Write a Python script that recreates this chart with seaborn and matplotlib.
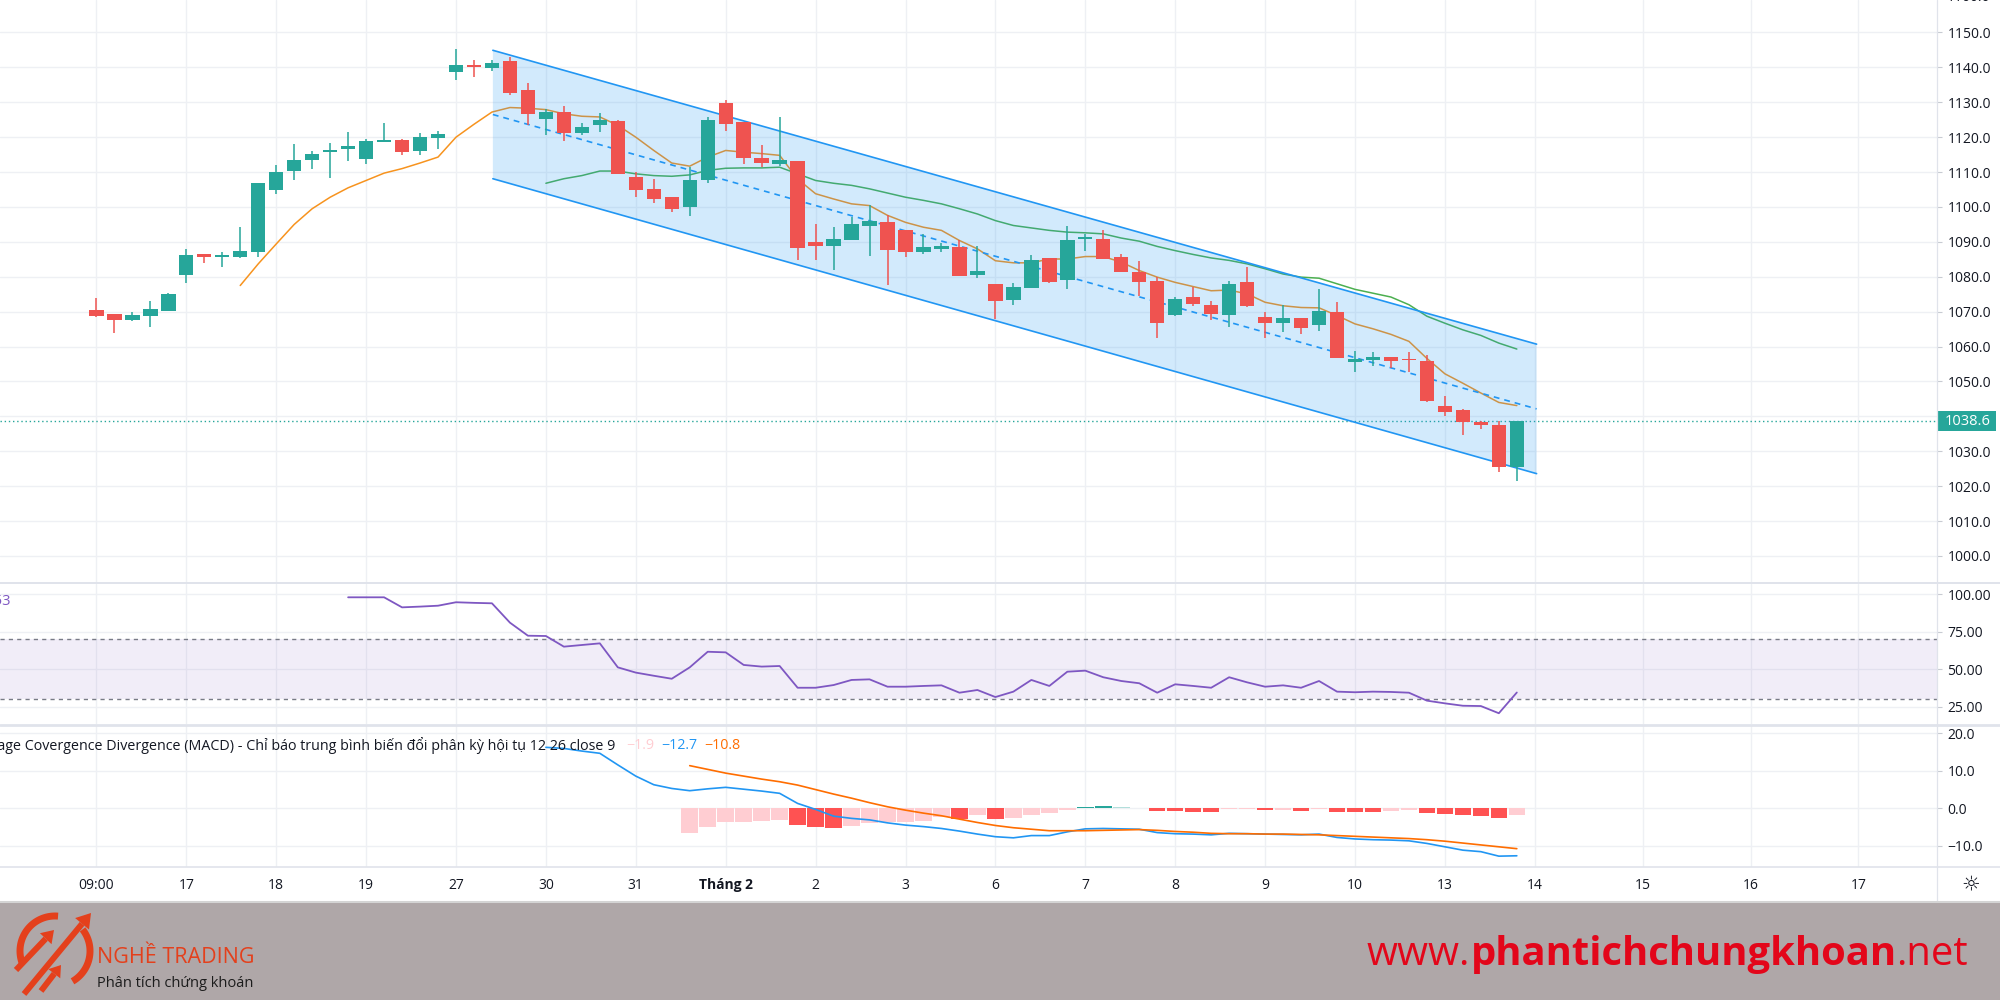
import numpy as np
import matplotlib
matplotlib.use("Agg")
import matplotlib.pyplot as plt
import matplotlib.transforms as mtransforms
from matplotlib.patches import Rectangle, Polygon
from matplotlib.lines import Line2D
import seaborn as sns

# ---------------- price bars (5 slots per trading day) ----------------
open_ = [1070.5, 1069.2, 1067.7, 1068.7, 1070.3, 1080.6, 1086.6, 1085.8, 1085.8, 1087.0,
         1104.9, 1110.3, 1113.5, 1115.7, 1116.7, 1113.8, 1118.6, 1119.1, 1116.0, 1119.9,
         1138.7, 1140.7, 1139.9, 1141.8, 1133.4, 1125.3, 1127.2, 1121.2, 1123.4, 1124.6,
         1108.6, 1105.2, 1103.0, 1100.0, 1107.6, 1129.8, 1124.4, 1114.0, 1112.2, 1113.3,
         1089.9, 1088.9, 1090.6, 1094.5, 1095.6, 1093.4, 1087.0, 1088.0, 1088.5, 1080.6,
         1077.9, 1073.4, 1076.8, 1085.3, 1079.1, 1090.9, 1090.9, 1085.6, 1081.5, 1078.9,
         1069.1, 1074.1, 1072.0, 1069.1, 1078.6, 1068.6, 1066.7, 1068.2, 1066.3, 1069.8,
         1055.5, 1056.3, 1057.1, 1056.3, 1056.0, 1042.9, 1041.8, 1038.5, 1037.4, 1025.5]
high = [1073.8, 1069.2, 1069.8, 1073.2, 1075.3, 1088.0, 1086.6, 1087.0, 1094.4, 1106.8,
        1112.1, 1118.1, 1116.0, 1118.3, 1121.4, 1119.5, 1124.1, 1119.5, 1121.2, 1121.7,
        1145.2, 1142.2, 1142.0, 1143.0, 1135.4, 1128.2, 1128.9, 1124.1, 1126.9, 1124.8,
        1110.0, 1107.9, 1103.0, 1111.4, 1125.8, 1130.6, 1124.4, 1117.8, 1125.8, 1113.3,
        1095.0, 1094.2, 1097.1, 1100.7, 1097.6, 1093.4, 1092.3, 1089.6, 1090.6, 1088.7,
        1077.9, 1078.1, 1086.3, 1085.3, 1094.5, 1092.3, 1093.3, 1086.4, 1084.6, 1080.0,
        1074.1, 1077.2, 1073.2, 1078.9, 1082.9, 1069.8, 1072.0, 1068.2, 1076.5, 1072.7,
        1058.8, 1058.5, 1057.1, 1058.5, 1057.7, 1045.9, 1042.0, 1038.7, 1038.7, 1038.6]
low = [1068.4, 1063.9, 1067.4, 1065.7, 1070.3, 1078.2, 1083.9, 1082.7, 1085.4, 1085.6,
       1103.6, 1107.6, 1111.0, 1108.4, 1113.2, 1112.4, 1118.6, 1115.0, 1115.0, 1116.7,
       1136.3, 1137.3, 1138.9, 1132.0, 1123.4, 1120.5, 1118.8, 1120.5, 1121.5, 1109.5,
       1102.8, 1101.2, 1098.5, 1097.3, 1106.8, 1121.8, 1112.2, 1111.4, 1111.7, 1084.8,
       1084.9, 1082.0, 1090.4, 1086.0, 1077.7, 1085.8, 1086.4, 1087.2, 1080.3, 1079.7,
       1067.9, 1072.0, 1076.8, 1078.1, 1076.5, 1087.3, 1085.1, 1081.3, 1074.6, 1062.6,
       1068.9, 1071.7, 1067.6, 1065.7, 1071.4, 1062.6, 1064.1, 1063.6, 1064.4, 1056.7,
       1052.7, 1054.4, 1053.8, 1052.7, 1044.0, 1040.1, 1034.6, 1036.5, 1024.0, 1021.4]
close = [1068.7, 1067.7, 1069.0, 1070.8, 1075.1, 1086.3, 1085.8, 1086.1, 1087.3, 1106.8,
         1110.0, 1113.6, 1115.3, 1116.4, 1117.4, 1118.8, 1119.3, 1115.7, 1120.0, 1121.0,
         1140.6, 1140.2, 1141.4, 1132.8, 1126.6, 1127.2, 1121.2, 1122.9, 1125.0, 1109.5,
         1105.0, 1102.3, 1099.5, 1107.8, 1125.0, 1123.7, 1114.1, 1112.6, 1113.6, 1088.3,
         1088.8, 1090.7, 1095.0, 1095.9, 1087.7, 1087.0, 1088.5, 1088.7, 1080.3, 1081.8,
         1073.2, 1077.2, 1084.8, 1078.6, 1090.4, 1091.3, 1085.1, 1081.3, 1078.6, 1066.9,
         1073.6, 1072.2, 1069.3, 1077.9, 1071.7, 1066.7, 1068.2, 1065.2, 1070.3, 1056.7,
         1056.4, 1057.1, 1055.8, 1056.1, 1044.5, 1041.4, 1038.5, 1037.6, 1025.5, 1038.6]

# ---------------- moving averages ----------------
ma_fast_start = 8
ma_fast = [1077.5, 1083.7, 1089.4, 1095.0, 1099.5, 1102.8, 1105.5, 1107.6, 1109.7, 1111.0,
           1112.6, 1114.3, 1120.0, 1123.7, 1127.2, 1128.5, 1128.3, 1127.9, 1126.7, 1126.0,
           1125.8, 1123.4, 1120.0, 1116.2, 1112.6, 1111.7, 1114.3, 1116.2, 1115.7, 1115.3,
           1114.8, 1108.0, 1103.8, 1102.3, 1100.9, 1100.4, 1097.6, 1095.6, 1094.2, 1093.3,
           1090.4, 1088.0, 1084.6, 1084.0, 1084.0, 1085.1, 1085.1, 1085.8, 1085.8, 1084.2,
           1081.8, 1079.9, 1078.4, 1077.2, 1076.0, 1076.2, 1075.1, 1072.7, 1071.7, 1071.2,
           1071.1, 1068.9, 1066.5, 1065.1, 1063.5, 1061.5, 1056.6, 1052.2, 1049.5, 1046.7,
           1044.0, 1043.1]
ma_slow_start = 25
ma_slow = [1106.8, 1108.1, 1109.0, 1110.3, 1110.3, 1109.5, 1109.0, 1108.8, 1109.2, 1110.5,
           1111.1, 1111.2, 1111.2, 1111.4, 1109.5, 1107.6, 1106.8, 1106.2, 1105.2, 1104.0,
           1102.8, 1101.9, 1100.9, 1099.5, 1098.0, 1096.1, 1094.7, 1094.0, 1093.3, 1092.8,
           1092.6, 1092.3, 1091.1, 1090.2, 1088.7, 1087.5, 1086.4, 1085.4, 1084.7, 1083.7,
           1082.3, 1080.8, 1079.9, 1079.6, 1078.0, 1076.4, 1075.3, 1074.2, 1072.0, 1068.7,
           1066.7, 1064.8, 1063.2, 1061.0, 1059.3]

# ---------------- parallel channel anchors ----------------
channel_x = [22.05, 80.1]
channel_upper = [1144.9, 1060.7]
channel_lower = [1108.1, 1023.6]

# ---------------- RSI 14 ----------------
rsi_start = 14
rsi = [98.0, 98.0, 98.0, 91.3, 91.8, 92.4, 94.7, 94.3, 94.0,
       81.1, 72.4, 72.2, 65.1, 66.2, 67.3, 51.3, 47.8, 45.7, 43.7,
       51.3, 61.7, 61.3, 52.9, 51.8, 52.2, 37.7, 37.7, 39.5, 42.9,
       43.3, 38.4, 38.4, 38.9, 39.3, 34.4, 36.2, 31.5, 35.1, 42.9,
       38.9, 48.4, 49.1, 44.7, 42.2, 40.7, 34.4, 40.0, 38.9, 37.7,
       44.7, 41.3, 38.4, 39.3, 37.7, 42.2, 35.1, 34.7, 35.1, 34.9,
       34.4, 29.1, 27.3, 25.7, 25.5, 20.7, 34.53]

# ---------------- MACD 12 26 9 ----------------
macd_start = 25
macd = [16.3, 16.0, 15.3, 14.7, 11.6, 8.6, 6.3, 5.3, 4.7, 5.2,
        5.6, 5.1, 4.6, 4.0, 1.3, -0.3, -2.1, -2.7, -3.1, -3.9,
        -4.5, -4.9, -5.4, -6.1, -6.9, -7.6, -7.9, -7.3, -7.3, -6.3,
        -5.5, -5.4, -5.5, -5.6, -6.5, -6.8, -6.9, -7.1, -6.7, -6.8,
        -6.9, -7.0, -7.1, -6.9, -7.8, -8.2, -8.4, -8.5, -8.7, -9.4,
        -10.3, -11.2, -11.6, -12.8, -12.7]
signal_start = 33
signal = [11.4, 10.4, 9.4, 8.6, 7.8, 7.1, 6.2, 5.0, 3.8, 2.7,
          1.5, 0.4, -0.5, -1.3, -2.0, -2.9, -3.8, -4.6, -5.2, -5.6,
          -6.0, -6.0, -6.0, -5.9, -5.8, -5.7, -5.9, -6.2, -6.4, -6.7,
          -6.8, -6.8, -6.9, -6.9, -7.0, -7.1, -7.3, -7.5, -7.7, -7.9,
          -8.1, -8.4, -8.8, -9.3, -9.8, -10.3, -10.8]
hist = [-6.7, -5.1, -3.8, -3.6, -3.3, -3.1, -4.5, -5.0, -5.2, -4.7,
        -4.0, -3.8, -3.6, -3.3, -2.4, -2.9, -1.8, -2.9, -2.7, -1.8,
        -1.3, -0.4, 0.4, 0.5, 0.4, 0.2, -0.7, -0.8, -0.9, -1.0,
        -0.3, -0.2, -0.5, -0.4, -0.6, -0.1, -0.9, -1.0, -1.1, -0.6,
        -0.5, -1.3, -1.6, -1.8, -2.0, -2.6, -1.9]

# ---------------- time scale ----------------
day_ticks = [0, 5, 10, 15, 20, 25, 30, 35, 40, 45, 50, 55, 60, 65, 70, 75, 80, 86, 92, 98]
day_labels = ["09:00", "17", "18", "19", "27", "30", "31", "Tháng 2", "2", "3", "6", "7",
              "8", "9", "10", "13", "14", "15", "16", "17"]
price_ticks = [1000, 1010, 1020, 1030, 1040, 1050, 1060, 1070, 1080, 1090, 1100,
               1110, 1120, 1130, 1140, 1150]
rsi_ticks = [25, 50, 75, 100]
macd_ticks = [-10, 0, 10, 20]

# ---------------- style ----------------
sns.set_theme(style="white")
plt.rcParams["font.family"] = ["Open Sans", "DejaVu Sans"]
plt.rcParams["axes.unicode_minus"] = True

UP, DOWN = "#26a69a", "#ef5350"
GRID = "#eef0f4"
SEP = "#e0e3eb"
TXT = "#131722"
BLUE, ORANGE = "#2196f3", "#ff6d00"
W, H = 2000, 1000
PLOT_R = 1937.0
XLIM = (-96.4 / 17.98, (PLOT_R - 96.4) / 17.98)

fig = plt.figure(figsize=(20, 10), dpi=100)
fig.patch.set_facecolor("white")


def ax_px(x0, y0, x1, y1):
    return fig.add_axes([x0 / W, 1 - y1 / H, (x1 - x0) / W, (y1 - y0) / H])


def style_pane(ax, yticks, fmt, ylim):
    ax.set_xlim(*XLIM)
    ax.set_ylim(*ylim)
    ax.set_facecolor("none")
    for s in ax.spines.values():
        s.set_visible(False)
    ax.set_xticks(day_ticks)
    ax.set_yticks(yticks)
    ax.set_yticklabels([fmt.format(v).replace("-", "\u2212") for v in yticks])
    ax.yaxis.tick_right()
    ax.tick_params(axis="x", length=0, labelbottom=False, bottom=False)
    ax.tick_params(axis="y", left=False, right=True, labelleft=False, labelright=True,
                   length=3.6, width=0.8, color="#c8cbd2", pad=4,
                   labelsize=10, labelcolor=TXT)
    ax.grid(True, color=GRID, linewidth=1)
    ax.set_axisbelow(True)
    ax.set_xlabel("")
    ax.set_ylabel("")


# ================= price pane =================
ax = ax_px(0, 0, PLOT_R, 582)
x = np.arange(len(close))
o, h, l, c = map(np.array, (open_, high, low, close))
bar_colors = np.where(c >= o, UP, DOWN)

sns.lineplot(x=np.arange(ma_fast_start, ma_fast_start + len(ma_fast)), y=ma_fast,
             ax=ax, color="#f7931e", linewidth=1.1, zorder=2)
sns.lineplot(x=np.arange(ma_slow_start, ma_slow_start + len(ma_slow)), y=ma_slow,
             ax=ax, color="#4caf50", linewidth=1.1, zorder=2)

cu, cl = np.array(channel_upper), np.array(channel_lower)
ax.add_patch(Polygon([(channel_x[0], cu[0]), (channel_x[1], cu[1]),
                      (channel_x[1], cl[1]), (channel_x[0], cl[0])],
                     closed=True, facecolor=(33 / 255, 150 / 255, 243 / 255, 0.2),
                     edgecolor="none", zorder=2.5))
ax.plot(channel_x, cu, color=BLUE, linewidth=1.2, zorder=3)
ax.plot(channel_x, cl, color=BLUE, linewidth=1.2, zorder=3)
ax.plot(channel_x, (cu + cl) / 2, color=BLUE, linewidth=1.2,
        linestyle=(0, (3.5, 3)), zorder=3)

ax.axhline(close[-1], color=UP, linewidth=1, linestyle=(0, (1, 2)), zorder=1.5)

ax.vlines(x, l, h, colors=bar_colors, linewidth=1.1, zorder=4)
ax.bar(x, np.maximum(np.abs(c - o), 0.35), bottom=np.minimum(o, c), width=0.8,
       color=bar_colors, linewidth=0, zorder=5)

style_pane(ax, price_ticks, "{:.1f}", (992.55, 1159.31))
blend = mtransforms.blended_transform_factory(ax.transAxes, ax.transData)
ax.text(1 + 10 / PLOT_R, 1160, "1160.0", transform=blend, ha="left", va="center",
        fontsize=10, color=TXT, clip_on=False)
# last price tag
ax.add_patch(Rectangle((1.0005, close[-1] - 2.9), 58 / PLOT_R, 5.8, transform=blend,
                       facecolor=UP, edgecolor="none", clip_on=False, zorder=6))
ax.text(1 + 8 / PLOT_R, close[-1], f"{close[-1]:.1f}", transform=blend, ha="left",
        va="center", fontsize=10.5, color="white", clip_on=False, zorder=7)

# ================= RSI pane =================
axr = ax_px(0, 584, PLOT_R, 724)
axr.axhspan(30, 70, color=(126 / 255, 87 / 255, 194 / 255, 0.1), linewidth=0, zorder=1)
axr.axhline(70, color="#787b86", linewidth=1, linestyle=(0, (3, 3)), zorder=2)
axr.axhline(30, color="#787b86", linewidth=1, linestyle=(0, (3, 3)), zorder=2)
sns.lineplot(x=np.arange(rsi_start, rsi_start + len(rsi)), y=rsi, ax=axr,
             color="#7e57c2", linewidth=1.3, zorder=3)
style_pane(axr, rsi_ticks, "{:.2f}", (13.53, 106.87))
fig.text(10.5 / W, 1 - 601.5 / H, f"RSI 14 close {rsi[-1]:.2f}", ha="right",
         va="center", fontsize=10.5, color="#7e57c2")

# ================= MACD pane =================
axm = ax_px(0, 726, PLOT_R, 867)
hist_colors = []
prev = None
for v in hist:
    rising = prev is None or v > prev
    if v >= 0:
        hist_colors.append("#26a69a" if rising else "#b2dfdb")
    else:
        hist_colors.append("#ffcdd2" if rising else "#ff5252")
    prev = v
axm.bar(np.arange(signal_start, signal_start + len(hist)), hist, width=0.92,
        color=hist_colors, linewidth=0, zorder=2)
sns.lineplot(x=np.arange(macd_start, macd_start + len(macd)), y=macd, ax=axm,
             color=BLUE, linewidth=1.2, zorder=3)
sns.lineplot(x=np.arange(signal_start, signal_start + len(signal)), y=signal, ax=axm,
             color=ORANGE, linewidth=1.2, zorder=3)
style_pane(axm, macd_ticks, "{:.1f}", (-15.7, 22.0))

renderer = fig.canvas.get_renderer()
legend_y = 1 - 745.5 / H
t = fig.text(615 / W, legend_y,
             "Moving Average Covergence Divergence (MACD) - Chỉ báo trung bình biến đổi "
             "phân kỳ hội tụ 12 26 close 9", ha="right", va="center", fontsize=10.3,
             color=TXT, zorder=10)
xpos = 626
for val, col in ((hist[-1], "#ffcdd2"), (macd[-1], BLUE), (signal[-1], ORANGE)):
    tv = fig.text(xpos / W, legend_y, f"{val:.1f}".replace("-", "\u2212"), ha="left",
                  va="center", fontsize=10.3, color=col, zorder=10)
    xpos = tv.get_window_extent(renderer).x1 + 7

# ================= time scale =================
axt = ax_px(0, 867, PLOT_R, 901)
axt.set_xlim(*XLIM)
axt.set_ylim(0, 1)
axt.axis("off")
for xt, lab in zip(day_ticks, day_labels):
    axt.text(xt, 0.47, lab, ha="center", va="center", fontsize=10, color=TXT,
             fontweight="bold" if lab.startswith("Th") else "normal")
fig.text(1971 / W, 1 - 884 / H, "\u263c", ha="center", va="center", fontsize=15,
         color=TXT, family=["DejaVu Sans"])

# pane separators
for y, lw in ((582.5, 1.4), (725, 2.0), (867, 1.2)):
    fig.add_artist(Line2D([0, 1], [1 - y / H] * 2, transform=fig.transFigure,
                          color=SEP, linewidth=lw))
fig.add_artist(Line2D([PLOT_R / W] * 2, [1 - 901 / H, 1], transform=fig.transFigure,
                      color=SEP, linewidth=0.9))
fig.add_artist(Line2D([0, 1], [1 - 901.5 / H] * 2, transform=fig.transFigure,
                      color="#d4d4d4", linewidth=1.5))

# ================= footer =================
FOOT = "#afa7a8"
fig.add_artist(Rectangle((0, 0), 1, 97 / H, transform=fig.transFigure,
                         facecolor=FOOT, edgecolor="none", zorder=-5))
axl = ax_px(0, 903, 300, 1000)
axl.set_zorder(5)
axl.set_xlim(0, 300)
axl.set_ylim(1000, 903)
axl.axis("off")
LOGO = "#e4401c"
cx, cy, r = 55, 951, 35
for a0, a1 in ((85, 200), (-60, 38)):
    tt = np.radians(np.linspace(a0, a1, 60))
    axl.plot(cx + r * np.cos(tt), cy - r * np.sin(tt), color=LOGO, linewidth=5,
             solid_capstyle="butt")
for (x0, y0), (x1, y1), hl, hw in (((24, 994), (91, 913), 14, 9),
                                   ((16, 970), (54, 930), 12, 8),
                                   ((41, 991), (61, 965), 11, 7.5)):
    d = np.array([x1 - x0, y1 - y0], float)
    u = d / np.hypot(*d)
    nrm = np.array([-u[1], u[0]])
    base = np.array([x1, y1]) - u * hl
    axl.plot([x0, base[0]], [y0, base[1]], color=LOGO, linewidth=4.3,
             solid_capstyle="butt")
    axl.add_patch(Polygon([(x1, y1), tuple(base + nrm * hw), tuple(base - nrm * hw)],
                          closed=True, facecolor=LOGO, edgecolor="none"))
axl.text(97, 957, "NGHỀ TRADING", ha="left", va="center", fontsize=15.5, color=LOGO)
axl.text(97, 984, "Phân tích chứng khoán", ha="left", va="center", fontsize=10.5,
         color="#1c1c1c")

base_y = 1 - 965 / H
xw = 1367
for part, wt in (("www.", "normal"), ("phantichchungkhoan", "bold"), (".net", "normal")):
    tw = fig.text(xw / W, base_y, part, ha="left", va="baseline", fontsize=28.8,
                  color="#e3061a", fontweight=wt)
    xw = tw.get_window_extent(renderer).x1

fig.savefig("out.png", dpi=100)
